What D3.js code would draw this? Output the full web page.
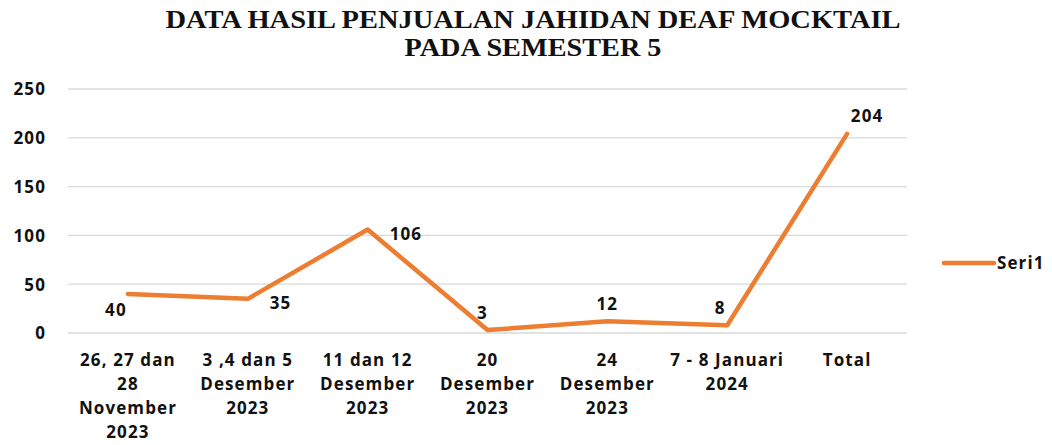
<!DOCTYPE html>
<html><head><meta charset="utf-8">
<script src="https://cdn.jsdelivr.net/npm/d3@7"></script>
<style>body{margin:0;background:#fff}svg{display:block}</style>
</head><body>
<svg id="c" width="1052" height="445"></svg>
<script>
const categories = [
  ["26, 27 dan","28","November","2023"],
  ["3 ,4 dan 5","Desember","2023"],
  ["11 dan 12","Desember","2023"],
  ["20","Desember","2023"],
  ["24","Desember","2023"],
  ["7 - 8 Januari","2024"],
  ["Total"]
];
const values = [40, 35, 106, 3, 12, 8, 204];
const yTicks = [0, 50, 100, 150, 200, 250];
const seriesName = "Seri1";
const titleLines = ["DATA HASIL PENJUALAN JAHIDAN DEAF MOCKTAIL", "PADA SEMESTER 5"];

const svg = d3.select("#c");
const m = {l:68, r:907, t:89, b:333};
const color = "#ED7D31";
const font = "'Open Sans', 'Noto Sans', sans-serif";
const ls = "1.1px";

const x = d3.scaleBand().domain(d3.range(categories.length)).range([m.l, m.r]);
const y = d3.scaleLinear().domain([0, 250]).range([m.b, m.t]);

// title (horizontally stretched serif, like the reference)
const titleWidths = [735, 257];
svg.append("g").selectAll("text").data(titleLines).join("text")
  .attr("x", 533).attr("y", (d,i)=>28 + i*28)
  .attr("text-anchor","middle")
  .attr("font-family","'Liberation Serif','Times New Roman',serif")
  .attr("font-weight","bold").attr("font-size",25)
  .attr("textLength",(d,i)=>titleWidths[i]).attr("lengthAdjust","spacingAndGlyphs")
  .attr("fill","#111").text(d=>d);

// grid
svg.append("g").selectAll("line").data(yTicks).join("line")
  .attr("x1", m.l).attr("x2", m.r)
  .attr("y1", d=>y(d)).attr("y2", d=>y(d))
  .attr("stroke","#d9d9d9").attr("stroke-width",1.3);

// y axis labels
const yAxis = d3.axisLeft(y).tickValues(yTicks).tickSize(0).tickPadding(0);
const ya = svg.append("g").attr("transform","translate(46,0)").call(yAxis);
ya.select(".domain").remove();
ya.selectAll("text").attr("font-family",font).attr("font-weight","bold")
  .attr("font-size",17).attr("letter-spacing",ls).attr("fill","#111").attr("dy","0.35em");

// x axis labels
const xAxis = d3.axisBottom(x).tickSize(0).tickFormat(()=>"");
const xa = svg.append("g").attr("transform",`translate(0,${m.b})`).call(xAxis);
xa.select(".domain").remove();
xa.selectAll(".tick").each(function(d){
  const t = d3.select(this).append("text")
    .attr("text-anchor","middle").attr("font-family",font)
    .attr("font-weight","bold").attr("font-size",17).attr("letter-spacing",ls).attr("fill","#111");
  categories[d].forEach((ln,i)=>{
    t.append("tspan").attr("x",0).attr("y",33 + i*24).text(ln);
  });
});

// line
const cx = i => x(i) + x.bandwidth()/2;
const line = d3.line().x((d,i)=>cx(i)).y(d=>y(d));
svg.append("path").datum(values).attr("d", line)
  .attr("fill","none").attr("stroke",color).attr("stroke-width",4.5)
  .attr("stroke-linejoin","round").attr("stroke-linecap","round");

// data labels (offsets are placement styles)
const dx = [-12, 22, 22, -5, 0, -7, 20];
const dy = [22, 10, 10, -11, -11, -11, -12];
svg.append("g").selectAll("text").data(values).join("text")
  .attr("x",(d,i)=>cx(i)+dx[i])
  .attr("y",(d,i)=>y(d)+dy[i])
  .attr("text-anchor",(d,i)=> i===1||i===2 ? "start" : "middle")
  .attr("font-family",font).attr("font-weight","bold").attr("font-size",17)
  .attr("letter-spacing",ls).attr("fill","#111").text(d=>d);

// legend
svg.append("line").attr("x1",944).attr("x2",994).attr("y1",263).attr("y2",263)
  .attr("stroke",color).attr("stroke-width",4.5).attr("stroke-linecap","round");
svg.append("text").attr("x",997).attr("y",269).attr("font-family",font)
  .attr("font-weight","bold").attr("font-size",17).attr("letter-spacing",ls)
  .attr("fill","#111").text(seriesName);
</script>
</body></html>
